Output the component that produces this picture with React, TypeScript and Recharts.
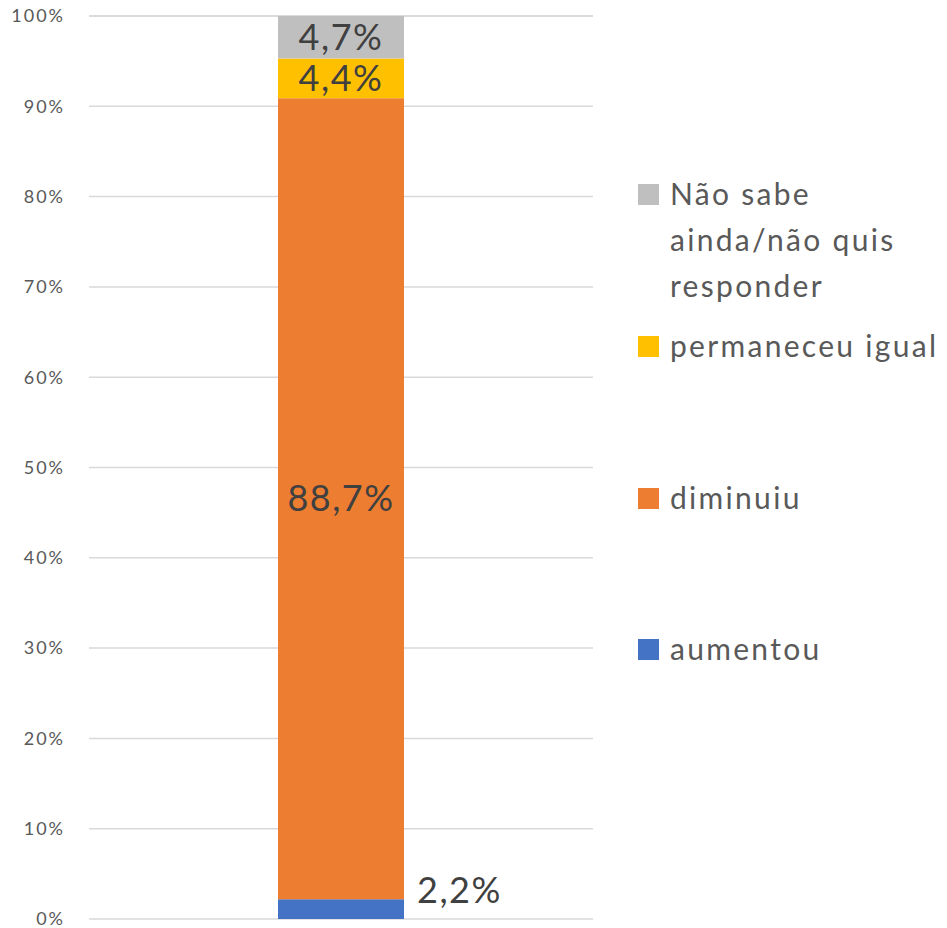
import { BarChart, Bar, XAxis, YAxis, CartesianGrid, LabelList } from "recharts";

const categories = ["Total"];
const aumentou = [2.2];
const diminuiu = [88.7];
const permaneceu = [4.4];
const naoSabe = [4.7];
const yTicks = [0, 10, 20, 30, 40, 50, 60, 70, 80, 90, 100];

const series = [
  { key: "aumentou", name: "aumentou", values: aumentou, color: "#4472C4" },
  { key: "diminuiu", name: "diminuiu", values: diminuiu, color: "#ED7D31" },
  { key: "permaneceu", name: "permaneceu igual", values: permaneceu, color: "#FFC000" },
  { key: "naoSabe", name: "Não sabe ainda/não quis responder", values: naoSabe, color: "#BFBFBF" },
];

const data = categories.map((c, i) => {
  const row: any = { name: c };
  series.forEach((s) => (row[s.key] = s.values[i]));
  return row;
});

const FONT = "Lato, 'Open Sans', sans-serif";
const fmt = (v: any) => Number(v).toFixed(1).replace(".", ",") + "%";

// legend text placement as in the original (Excel spreads the entries out)
const legendItems = [
  { s: series[3], top: 170, lines: ["Não sabe", "ainda/não quis", "responder"] },
  { s: series[2], top: 322, lines: ["permaneceu igual"] },
  { s: series[1], top: 474, lines: ["diminuiu"] },
  { s: series[0], top: 625, lines: ["aumentou"] },
];

const SideLabel = (props: any) => {
  const vb = props.viewBox ?? props;
  const { x, y, width } = vb;
  return (
    <text
      x={x + width + 13}
      y={y - 10}
      dominantBaseline="central"
      textAnchor="start"
      fontSize={36}
      letterSpacing={1.5}
      fill="#404040"
      fontFamily={FONT}
    >
      {fmt(props.value)}
    </text>
  );
};

export default function App() {
  return (
    <div style={{ position: "absolute", left: 0, top: 0, width: 947, height: 928, background: "#fff" }}>
      <BarChart
        width={947}
        height={928}
        data={data}
        margin={{ top: 16, right: 354, bottom: 9, left: 0 }}
      >
        <CartesianGrid vertical={false} stroke="#d9d9d9" strokeWidth={1.5} />
        <XAxis dataKey="name" hide />
        <YAxis
          type="number"
          domain={[0, 100]}
          ticks={yTicks}
          interval={0}
          width={89}
          axisLine={false}
          tickLine={false}
          tickSize={0}
          tickMargin={24}
          tickFormatter={(v) => `${v}%`}
          tick={{ fontSize: 18, fill: "#595959", fontFamily: FONT, letterSpacing: 2 }}
        />
        {series.map((s) => (
          <Bar
            key={s.key}
            dataKey={s.key}
            name={s.name}
            stackId="a"
            fill={s.color}
            barSize={126}
            isAnimationActive={false}
          >
            {s.key === "aumentou" ? (
              <LabelList dataKey={s.key} content={<SideLabel />} />
            ) : (
              <LabelList
                dataKey={s.key}
                position="center"
                formatter={fmt}
                fontSize={36}
                letterSpacing={1.5}
                fill="#404040"
                fontFamily={FONT}
              />
            )}
          </Bar>
        ))}
      </BarChart>
      {legendItems.map((it) => (
        <div
          key={it.s.key}
          style={{
            position: "absolute",
            left: 638,
            top: it.top,
            fontFamily: FONT,
            fontSize: 30,
            letterSpacing: 2.3,
            lineHeight: "46px",
            color: "#595959",
            whiteSpace: "nowrap",
          }}
        >
          <span
            style={{
              position: "absolute",
              left: 0,
              top: 14,
              width: 21,
              height: 21,
              background: it.s.color,
            }}
          />
          <div style={{ marginLeft: 32 }}>
            {it.lines.map((l) => (
              <div key={l}>{l}</div>
            ))}
          </div>
        </div>
      ))}
    </div>
  );
}
